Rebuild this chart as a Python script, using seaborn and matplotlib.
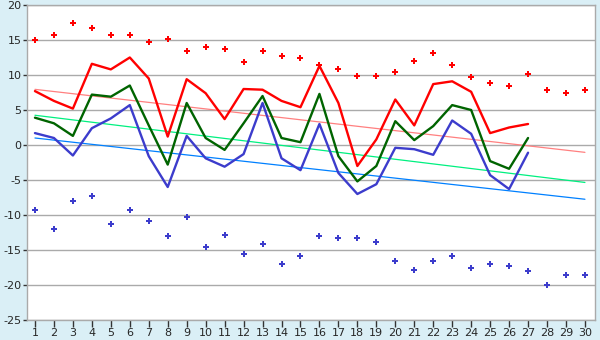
import numpy as np
import pandas as pd
import matplotlib
matplotlib.use("Agg")
import matplotlib.pyplot as plt
import seaborn as sns

# Daily observations (days 1-27)
days_obs = list(range(1, 28))
t_max = [7.7, 6.3, 5.2, 11.6, 10.8, 12.5, 9.5, 1.2, 9.4, 7.4,
         3.7, 8.0, 7.9, 6.3, 5.4, 11.3, 6.0, -3.0, 0.8, 6.5,
         2.8, 8.7, 9.1, 7.6, 1.7, 2.5, 3.0]
t_mean = [3.9, 3.1, 1.3, 7.2, 6.9, 8.5, 2.8, -2.8, 6.0, 1.0,
          -0.7, 3.1, 7.0, 1.0, 0.4, 7.3, -1.6, -5.2, -3.0, 3.4,
          0.7, 2.7, 5.7, 5.0, -2.3, -3.4, 1.0]
t_min = [1.7, 1.0, -1.5, 2.4, 3.8, 5.7, -1.6, -6.0, 1.3, -1.9,
         -3.1, -1.3, 6.0, -1.9, -3.6, 3.0, -4.0, -7.0, -5.6, -0.4,
         -0.6, -1.4, 3.5, 1.6, -4.3, -6.3, -1.1]

# Record extremes for every day of the month
days_all = list(range(1, 31))
rec_max = [15.0, 15.7, 17.5, 16.7, 15.7, 15.7, 14.7, 15.2, 13.5, 14.0,
           13.7, 11.8, 13.4, 12.7, 12.4, 11.4, 10.9, 9.9, 9.8, 10.4,
           12.0, 13.2, 11.5, 9.7, 8.9, 8.5, 10.2, 7.9, 7.4, 7.8]
rec_min = [-9.3, -12.0, -8.0, -7.3, -11.3, -9.3, -10.9, -13.0, -10.3, -14.5,
           -12.9, -15.6, -14.2, -17.0, -15.8, -13.0, -13.3, -13.3, -13.9, -16.6,
           -17.8, -16.6, -15.8, -17.5, -17.0, -17.3, -18.0, -20.0, -18.5, -18.5]

# Climatological normals (linear over the month): values on day 1 and day 30
norm_days = [1, 30]
norm_max = [7.95, -1.05]
norm_mean = [4.25, -5.35]
norm_min = [1.0, -7.75]

y_ticks = list(range(-25, 21, 5))

obs = pd.DataFrame({"day": days_obs, "max": t_max, "mean": t_mean, "min": t_min})
rec = pd.DataFrame({"day": days_all, "rmax": rec_max, "rmin": rec_min})
norm = pd.DataFrame({"day": norm_days, "nmax": norm_max, "nmean": norm_mean, "nmin": norm_min})

sns.set_style("white")
plt.rcParams["font.family"] = ["DejaVu Sans"]

bg = "#DAEFF6"
grid_c = "#AAAAAA"

fig = plt.figure(figsize=(6, 3.4), dpi=100, facecolor=bg)
ax = fig.add_axes([27 / 600, 1 - 320 / 340, (595 - 27) / 600, (320 - 5) / 340])
ax.set_facecolor("white")

for y in y_ticks:
    ax.axhline(y, color=grid_c, lw=1.0, zorder=0)

# Normals
sns.lineplot(data=norm, x="day", y="nmax", color="#FF8080", lw=0.9, ax=ax, zorder=2)
sns.lineplot(data=norm, x="day", y="nmean", color="#00F080", lw=0.9, ax=ax, zorder=2)
sns.lineplot(data=norm, x="day", y="nmin", color="#0080FF", lw=0.9, ax=ax, zorder=2)

# Observations
sns.lineplot(data=obs, x="day", y="max", color="#FF0000", lw=1.7, ax=ax, zorder=3)
sns.lineplot(data=obs, x="day", y="mean", color="#006400", lw=1.7, ax=ax, zorder=3)
sns.lineplot(data=obs, x="day", y="min", color="#3C3CCC", lw=1.7, ax=ax, zorder=3)

# Records
sns.scatterplot(data=rec, x="day", y="rmax", color="#FF0000", marker="P", s=22,
                linewidth=0, ax=ax, zorder=4)
sns.scatterplot(data=rec, x="day", y="rmin", color="#3C3CCC", marker="P", s=22,
                linewidth=0, ax=ax, zorder=4)

ax.set_xlim(0.58, 30.53)
ax.set_ylim(-25, 20)
ax.set_xticks(days_all)
ax.set_xticklabels([str(d) for d in days_all])
ax.set_yticks(y_ticks)
ax.set_yticklabels([str(y) for y in y_ticks])
ax.set_xlabel("")
ax.set_ylabel("")
ax.tick_params(axis="x", direction="out", length=5, width=1, color="#333333",
               labelsize=8, pad=1, bottom=True)
ax.tick_params(axis="y", direction="out", length=3, width=1, color="#333333",
               labelsize=8, pad=1, left=True)
for s in ax.spines.values():
    s.set_color(grid_c)
    s.set_linewidth(1.0)

fig.savefig("out.png", dpi=100, facecolor=bg)
